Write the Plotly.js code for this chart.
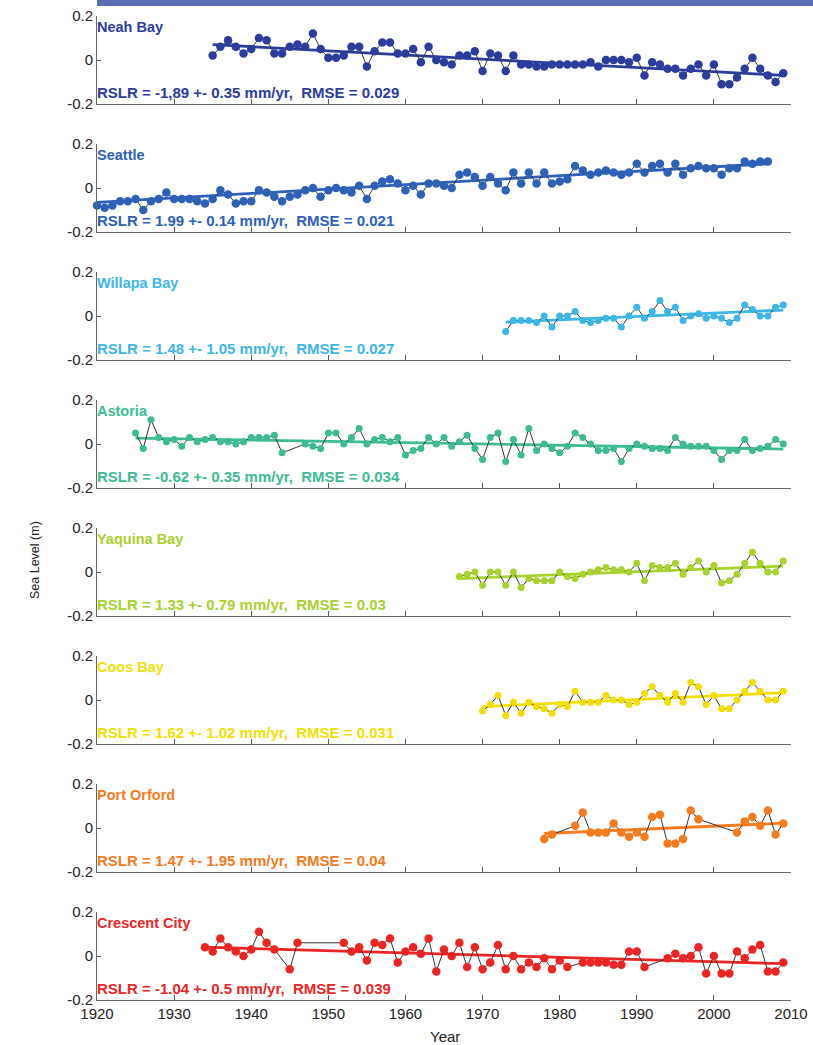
<!DOCTYPE html>
<html>
<head>
<meta charset="utf-8">
<script src="https://cdn.plot.ly/plotly-3.0.1.min.js"></script>
<style>html,body{margin:0;padding:0;background:#ffffff;}</style>
</head>
<body>
<div id="chart" style="width:813px;height:1045px;"></div>
<script>
// ---------- data ----------
const stationNames = ["Neah Bay","Seattle","Willapa Bay","Astoria","Yaquina Bay","Coos Bay","Port Orford","Crescent City"];
const stationColors = ["#2b3c9e","#2e60b8","#3cb6e8","#3dbb95","#a8d22c","#f2df00","#f47b20","#ec2424"];
const rslrLabels = [
  "RSLR = -1,89 +- 0.35 mm/yr,  RMSE = 0.029",
  "RSLR = 1.99 +- 0.14 mm/yr,  RMSE = 0.021",
  "RSLR = 1.48 +- 1.05 mm/yr,  RMSE = 0.027",
  "RSLR = -0.62 +- 0.35 mm/yr,  RMSE = 0.034",
  "RSLR = 1.33 +- 0.79 mm/yr,  RMSE = 0.03",
  "RSLR = 1.62 +- 1.02 mm/yr,  RMSE = 0.031",
  "RSLR = 1.47 +- 1.95 mm/yr,  RMSE = 0.04",
  "RSLR = -1.04 +- 0.5 mm/yr,  RMSE = 0.039"
];
const xTickYears = [1920,1930,1940,1950,1960,1970,1980,1990,2000,2010];
const yTickVals = [-0.2,0,0.2];
const yTickText = ["-0.2","0","0.2"];

const neahBayYears = [1935,1936,1937,1938,1939,1940,1941,1942,1943,1944,1945,1946,1947,1948,1949,1950,1951,1952,1953,1954,1955,1956,1957,1958,1959,1960,1961,1962,1963,1964,1965,1966,1967,1968,1969,1970,1971,1972,1973,1974,1975,1976,1977,1978,1979,1980,1981,1982,1983,1984,1985,1986,1987,1988,1989,1990,1991,1992,1993,1994,1995,1996,1997,1998,1999,2000,2001,2002,2003,2004,2005,2006,2007,2008,2009];
const neahBayLevels = [0.02,0.06,0.09,0.06,0.03,0.05,0.10,0.09,0.03,0.03,0.06,0.07,0.06,0.12,0.05,0.01,0.01,0.02,0.06,0.06,-0.03,0.04,0.08,0.08,0.03,0.03,0.05,-0.01,0.06,0.00,-0.01,-0.02,0.02,0.02,0.04,-0.05,0.03,0.02,-0.05,0.02,-0.02,-0.02,-0.03,-0.03,-0.02,-0.02,-0.02,-0.02,-0.02,-0.01,-0.03,0.00,0.00,0.00,-0.01,0.01,-0.07,-0.01,-0.02,-0.04,-0.04,-0.07,-0.04,-0.02,-0.07,-0.02,-0.11,-0.11,-0.08,-0.04,0.01,-0.04,-0.07,-0.10,-0.06];
const neahBayTrendYears = [1935,2009];
const neahBayTrend = [0.07,-0.07];

const seattleYears = [1920,1921,1922,1923,1924,1925,1926,1927,1928,1929,1930,1931,1932,1933,1934,1935,1936,1937,1938,1939,1940,1941,1942,1943,1944,1945,1946,1947,1948,1949,1950,1951,1952,1953,1954,1955,1956,1957,1958,1959,1960,1961,1962,1963,1964,1965,1966,1967,1968,1969,1970,1971,1972,1973,1974,1975,1976,1977,1978,1979,1980,1981,1982,1983,1984,1985,1986,1987,1988,1989,1990,1991,1992,1993,1994,1995,1996,1997,1998,1999,2000,2001,2002,2003,2004,2005,2006,2007];
const seattleLevels = [-0.08,-0.09,-0.08,-0.06,-0.06,-0.05,-0.10,-0.06,-0.05,-0.02,-0.05,-0.05,-0.05,-0.06,-0.07,-0.05,-0.01,-0.03,-0.07,-0.06,-0.06,-0.01,-0.02,-0.04,-0.06,-0.04,-0.03,-0.01,0.00,-0.04,-0.01,0.00,-0.01,-0.02,0.01,-0.05,0.01,0.03,0.04,0.02,-0.01,0.01,-0.03,0.02,0.02,0.01,0.00,0.06,0.07,0.05,0.01,0.05,0.02,-0.01,0.07,0.02,0.07,0.02,0.07,0.02,0.03,0.04,0.10,0.08,0.06,0.07,0.08,0.07,0.06,0.07,0.11,0.07,0.10,0.11,0.07,0.11,0.06,0.09,0.10,0.09,0.09,0.06,0.09,0.09,0.12,0.11,0.12,0.12];
const seattleTrendYears = [1920,2007];
const seattleTrend = [-0.065,0.11];

const willapaYears = [1973,1974,1975,1976,1977,1978,1979,1980,1981,1982,1983,1984,1985,1986,1987,1988,1989,1990,1991,1992,1993,1994,1995,1996,1997,1998,1999,2000,2001,2002,2003,2004,2005,2006,2007,2008,2009];
const willapaLevels = [-0.07,-0.02,-0.02,-0.02,-0.03,0.00,-0.05,0.00,0.00,0.02,-0.02,-0.03,-0.02,-0.01,-0.01,-0.05,0.00,0.04,-0.01,0.02,0.07,0.02,0.04,-0.02,0.00,0.01,-0.01,0.00,-0.01,-0.03,-0.01,0.05,0.03,0.00,0.00,0.04,0.05];
const willapaTrendYears = [1973,2009];
const willapaTrend = [-0.028,0.027];

const astoriaYears = [1925,1926,1927,1928,1929,1930,1931,1932,1933,1934,1935,1936,1937,1938,1939,1940,1941,1942,1943,1944,1947,1948,1949,1950,1951,1952,1953,1954,1955,1956,1957,1958,1959,1960,1961,1962,1963,1964,1965,1966,1967,1968,1969,1970,1971,1972,1973,1974,1975,1976,1977,1978,1979,1980,1981,1982,1983,1984,1985,1986,1987,1988,1989,1990,1991,1992,1993,1994,1995,1996,1997,1998,1999,2000,2001,2002,2003,2004,2005,2006,2007,2008,2009];
const astoriaLevels = [0.05,-0.02,0.11,0.03,0.01,0.02,-0.01,0.03,0.01,0.02,0.03,0.01,0.01,0.00,0.01,0.03,0.03,0.03,0.04,-0.04,0.00,-0.01,-0.02,0.05,0.05,0.00,0.03,0.07,0.00,0.02,0.03,0.01,0.03,-0.05,-0.03,-0.02,0.03,0.00,0.03,-0.01,0.01,0.04,-0.02,-0.07,0.03,0.05,-0.08,0.02,-0.05,0.07,-0.03,0.00,-0.02,-0.04,-0.01,0.05,0.03,0.00,-0.03,-0.03,-0.02,-0.08,-0.02,0.00,-0.01,-0.02,-0.02,-0.03,0.03,0.00,-0.01,-0.01,-0.01,-0.03,-0.07,-0.03,-0.03,0.02,-0.03,-0.02,-0.01,0.02,0.00];
const astoriaTrendYears = [1925,2009];
const astoriaTrend = [0.027,-0.023];

const yaquinaYears = [1967,1968,1969,1970,1971,1972,1973,1974,1975,1976,1977,1978,1979,1980,1981,1982,1983,1984,1985,1986,1987,1988,1989,1990,1991,1992,1993,1994,1995,1996,1997,1998,1999,2000,2001,2002,2003,2004,2005,2006,2007,2008,2009];
const yaquinaLevels = [-0.02,-0.01,0.00,-0.06,0.00,0.00,-0.06,0.00,-0.07,-0.03,-0.04,-0.04,-0.04,0.00,-0.02,-0.03,-0.01,0.00,0.01,0.02,0.01,0.01,0.00,0.04,-0.04,0.03,0.02,0.02,0.04,-0.01,0.02,0.05,0.00,0.03,-0.05,-0.04,-0.01,0.04,0.09,0.04,0.00,0.00,0.05];
const yaquinaTrendYears = [1967,2009];
const yaquinaTrend = [-0.03,0.027];

const coosYears = [1970,1971,1972,1973,1974,1975,1976,1977,1978,1979,1980,1981,1982,1983,1984,1985,1986,1987,1988,1989,1990,1991,1992,1993,1994,1995,1996,1997,1998,1999,2000,2001,2002,2003,2004,2005,2006,2007,2008,2009];
const coosLevels = [-0.05,-0.02,0.02,-0.07,-0.01,-0.06,-0.01,-0.03,-0.04,-0.06,-0.02,-0.03,0.04,-0.01,-0.01,-0.01,0.02,0.00,0.00,-0.02,-0.01,0.03,0.06,0.02,-0.01,0.03,-0.01,0.08,0.06,-0.02,0.02,-0.04,-0.04,0.00,0.04,0.08,0.04,0.00,0.00,0.04];
const coosTrendYears = [1970,2009];
const coosTrend = [-0.03,0.033];

const portOrfordYears = [1978,1979,1982,1983,1984,1985,1986,1987,1988,1989,1990,1991,1992,1993,1994,1995,1996,1997,1998,2003,2004,2005,2006,2007,2008,2009];
const portOrfordLevels = [-0.05,-0.03,0.01,0.07,-0.02,-0.02,-0.02,0.02,-0.02,-0.04,-0.02,-0.04,0.05,0.06,-0.07,-0.07,-0.05,0.08,0.04,-0.02,0.03,0.05,0.01,0.08,-0.03,0.02];
const portOrfordTrendYears = [1978,2009];
const portOrfordTrend = [-0.025,0.022];

const crescentYears = [1934,1935,1936,1937,1938,1939,1940,1941,1942,1943,1945,1946,1952,1953,1954,1955,1956,1957,1958,1959,1960,1961,1962,1963,1964,1965,1966,1967,1968,1969,1970,1971,1972,1973,1974,1975,1976,1977,1978,1979,1980,1981,1983,1984,1985,1986,1987,1988,1989,1990,1991,1994,1995,1996,1997,1998,1999,2000,2001,2002,2003,2004,2005,2006,2007,2008,2009];
const crescentLevels = [0.04,0.02,0.08,0.04,0.02,0.00,0.03,0.11,0.06,0.03,-0.06,0.06,0.06,0.02,0.04,-0.02,0.06,0.05,0.08,-0.03,0.02,0.04,0.01,0.08,-0.07,0.03,0.00,0.06,-0.05,0.04,-0.06,-0.03,0.05,-0.06,0.00,-0.06,-0.03,-0.05,-0.01,-0.06,-0.02,-0.05,-0.03,-0.03,-0.03,-0.03,-0.04,-0.04,0.02,0.02,-0.05,-0.01,0.01,-0.01,0.00,0.04,-0.08,0.00,-0.08,-0.08,0.02,-0.01,0.03,0.05,-0.07,-0.07,-0.03];
const crescentTrendYears = [1934,2009];
const crescentTrend = [0.04,-0.035];

// ---------- build ----------
const series = [
  {years: neahBayYears, levels: neahBayLevels, ty: neahBayTrendYears, tv: neahBayTrend},
  {years: seattleYears, levels: seattleLevels, ty: seattleTrendYears, tv: seattleTrend},
  {years: willapaYears, levels: willapaLevels, ty: willapaTrendYears, tv: willapaTrend},
  {years: astoriaYears, levels: astoriaLevels, ty: astoriaTrendYears, tv: astoriaTrend},
  {years: yaquinaYears, levels: yaquinaLevels, ty: yaquinaTrendYears, tv: yaquinaTrend},
  {years: coosYears, levels: coosLevels, ty: coosTrendYears, tv: coosTrend},
  {years: portOrfordYears, levels: portOrfordLevels, ty: portOrfordTrendYears, tv: portOrfordTrend},
  {years: crescentYears, levels: crescentLevels, ty: crescentTrendYears, tv: crescentTrend}
];

const FONT = "Liberation Sans, Arial, Helvetica, sans-serif";
const W = 813, H = 1045;
const ML = 97, MR = 22, MT = 16, MB = 45;
const plotH = H - MT - MB;          // 984
const plotW = W - ML - MR;          // 694
const panelH = 88, period = 128;

const traces = [];
const layout = {
  width: W, height: H,
  margin: {l: ML, r: MR, t: MT, b: MB, pad: 0},
  paper_bgcolor: "#ffffff", plot_bgcolor: "#ffffff",
  showlegend: false,
  font: {family: FONT, size: 14, color: "#222"},
  annotations: [],
  shapes: []
};

for (let i = 0; i < 8; i++) {
  const k = i === 0 ? "" : String(i + 1);
  const topPx = MT + period * i;
  const botPx = topPx + panelH;
  const d0 = (H - MB - botPx) / plotH;
  const d1 = (H - MB - topPx) / plotH;
  const col = stationColors[i];
  const s = series[i];

  traces.push({
    x: s.ty, y: s.tv, xaxis: "x" + k, yaxis: "y" + k,
    mode: "lines", line: {color: col, width: 2.8}, hoverinfo: "skip"
  });
  traces.push({
    x: s.years, y: s.levels, xaxis: "x" + k, yaxis: "y" + k,
    mode: "lines+markers",
    line: {color: "#333333", width: 1},
    marker: {color: col, size: (i < 2 || i === 7 || i === 6) ? 8.5 : 7, line: {width: 0}},
    cliponaxis: false
  });

  layout["xaxis" + k] = {
    domain: [0, 1], anchor: "y" + k, range: [1920, 2010],
    tickvals: xTickYears, ticktext: xTickYears.map(String),
    showticklabels: i === 7,
    ticks: "inside", ticklen: 5, tickwidth: 1, tickcolor: "#555",
    showline: true, linecolor: "#666", linewidth: 1,
    showgrid: false, zeroline: false, fixedrange: true,
    tickfont: {family: FONT, size: 15, color: "#222"}
  };
  layout["yaxis" + k] = {
    domain: [d0, d1], anchor: "x" + k, range: [-0.2, 0.2],
    tickvals: yTickVals, ticktext: yTickText,
    ticks: "inside", ticklen: 4, tickwidth: 1, tickcolor: "#555",
    showline: true, linecolor: "#666", linewidth: 1,
    showgrid: false, zeroline: false, fixedrange: true,
    tickfont: {family: FONT, size: 15, color: "#222"}
  };

  layout.annotations.push({
    xref: "x" + k + " domain", yref: "y" + k + " domain",
    x: 0, y: 1, xanchor: "left", yanchor: "top", yshift: -1, xshift: -2,
    text: "<b>" + stationNames[i] + "</b>", showarrow: false,
    font: {family: FONT, size: 14.5, color: col}
  });
  layout.annotations.push({
    xref: "x" + k + " domain", yref: "y" + k + " domain",
    x: 0, y: 0, xanchor: "left", yanchor: "bottom", yshift: 1, xshift: -2,
    text: "<b>" + rslrLabels[i] + "</b>", showarrow: false,
    font: {family: FONT, size: 15, color: col}
  });
}

layout.annotations.push({
  xref: "paper", yref: "paper", x: 0, xshift: -62, y: (H - MB - 560) / plotH,
  xanchor: "center", yanchor: "middle", textangle: -90,
  text: "Sea Level (m)", showarrow: false,
  font: {family: FONT, size: 12.5, color: "#222"}
});
layout.annotations.push({
  xref: "paper", yref: "paper", x: (445 - ML) / plotW, y: 0, yshift: -36,
  xanchor: "center", yanchor: "middle",
  text: "Year", showarrow: false,
  font: {family: FONT, size: 15, color: "#222"}
});

layout.shapes.push({
  type: "rect", xref: "paper", yref: "paper", layer: "above",
  x0: 0, x1: (W - ML) / plotW, y0: (H - MB - 6) / plotH, y1: (H - MB + 2) / plotH,
  fillcolor: "#5b6db3", line: {width: 0}
});

Plotly.newPlot("chart", traces, layout, {displayModeBar: false, staticPlot: true});
</script>
</body>
</html>
